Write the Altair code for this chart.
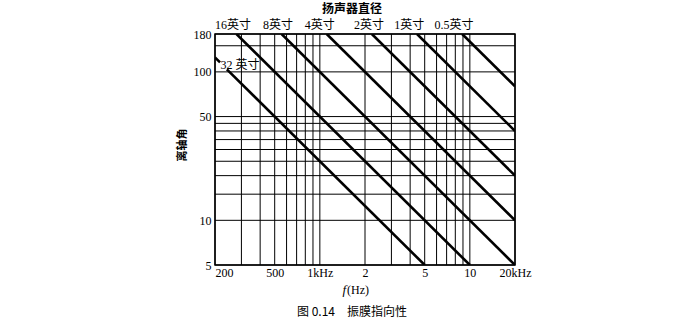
import altair as alt
import pandas as pd

# ---- data ----
# vertical grid (Hz) and horizontal grid (degrees)
x_grid = [200, 300, 400, 500, 600, 700, 800, 900, 1000,
          2000, 3000, 4000, 5000, 6000, 7000, 8000, 9000, 10000, 20000]
y_grid = [5, 10, 15, 20, 25, 30, 35, 40, 45, 50, 100, 150, 180]

# diagonal lines: segment id, start (Hz, deg), end (Hz, deg)
seg_ids = ["32a", "32b", "16", "8", "4", "2", "1", "0.5"]
f_start = [200, 240, 278, 556, 1111, 2222, 4444, 8889]
a_start = [125, 104, 180, 180, 180, 180, 180, 180]
f_end = [216, 5000, 10000, 20000, 20000, 20000, 20000, 20000]
a_end = [116, 5, 5, 5, 10, 20, 40, 80]

# top labels (speaker diameter) and their centre frequencies
top_labels = ["16英寸", "8英寸", "4英寸", "2英寸", "1英寸", "0.5英寸"]
top_label_f = [264, 526, 1000, 2126, 3946, 7830]

# x tick values / labels
x_ticks = [200, 500, 1000, 2000, 5000, 10000, 20000]
y_ticks = [5, 10, 50, 100, 180]

SERIF = "Liberation Serif, Noto Sans CJK SC"
SANS = "Noto Sans CJK SC"

xscale = alt.Scale(type="log", domain=[200, 20000])
yscale = alt.Scale(type="log", domain=[5, 180])

x_axis = alt.Axis(
    values=x_ticks, title=None, grid=False, ticks=False, domain=False,
    labelFont=SERIF, labelFontSize=12, labelColor="black", labelPadding=2,
    labelAlign={"condition": {"test": "datum.value == 200", "value": "left"}, "value": "center"},
    labelExpr="datum.value == 1000 ? '1kHz' : datum.value == 20000 ? '20kHz' : "
              "datum.value >= 2000 ? format(datum.value / 1000, 'd') : format(datum.value, 'd')",
)
y_axis = alt.Axis(
    values=y_ticks, title=None, grid=False, ticks=False, domain=False, format="d",
    labelFont=SERIF, labelFontSize=12, labelColor="black", labelPadding=4,
)

# vertical grid
vgrid = alt.Chart(pd.DataFrame({"f": x_grid})).mark_rule(color="black", strokeWidth=1).encode(
    x=alt.X("f:Q", scale=xscale, axis=x_axis)
)
# horizontal grid
hgrid = alt.Chart(pd.DataFrame({"a": y_grid})).mark_rule(color="black", strokeWidth=1).encode(
    y=alt.Y("a:Q", scale=yscale, axis=y_axis)
)

rows = []
for s, fs, as_, fe, ae in zip(seg_ids, f_start, a_start, f_end, a_end):
    rows.append({"seg": s, "f": fs, "a": as_})
    rows.append({"seg": s, "f": fe, "a": ae})
lines_df = pd.DataFrame(rows)

lines = alt.Chart(lines_df).mark_line(color="black", strokeWidth=2.6, clip=True).encode(
    x=alt.X("f:Q", scale=xscale, axis=x_axis),
    y=alt.Y("a:Q", scale=yscale, axis=y_axis),
    detail="seg:N",
)

top_text = alt.Chart(pd.DataFrame({"f": top_label_f, "t": top_labels})).mark_text(
    font=SERIF, fontSize=12, color="black", baseline="middle", align="center"
).encode(
    x=alt.X("f:Q", scale=xscale, axis=x_axis),
    y=alt.value(-9),
    text="t:N",
)

label32 = alt.Chart(pd.DataFrame({"f": [218], "a": [111], "t": ["32 英寸"]})).mark_text(
    font=SERIF, fontSize=12, color="black", baseline="middle", align="left"
).encode(
    x=alt.X("f:Q", scale=xscale, axis=x_axis),
    y=alt.Y("a:Q", scale=yscale, axis=y_axis),
    text="t:N",
)

def fixed_text(txt, x, y, **kw):
    return alt.Chart(pd.DataFrame({"t": [txt]})).mark_text(color="black", **kw).encode(
        x=alt.value(x), y=alt.value(y), text="t:N"
    )

title_top = fixed_text("扬声器直径", 137, -25, font=SANS, fontSize=12, fontWeight="bold")
y_title = fixed_text("离轴角", -32, 111, font=SANS, fontSize=11, fontWeight="bold", angle=270)
x_title_f = fixed_text("f", 131, 256, font=SERIF, fontSize=13, fontStyle="italic", align="right")
x_title_hz = fixed_text("(Hz)", 132, 256, font=SERIF, fontSize=12, align="left")
caption = fixed_text("图 0.14　振膜指向性", 137, 278, font=SANS, fontSize=12)

chart = alt.layer(
    vgrid, hgrid, lines, top_text, label32, title_top, y_title, x_title_f, x_title_hz, caption
).properties(
    width=300, height=231,
    autosize=alt.AutoSizeParams(type="none"),
    padding={"left": 215, "top": 34, "right": 168, "bottom": 70},
    background="white",
).configure_view(stroke="black", strokeWidth=1.5)

chart.save("out.html", embed_options={"renderer": "svg", "actions": False})
